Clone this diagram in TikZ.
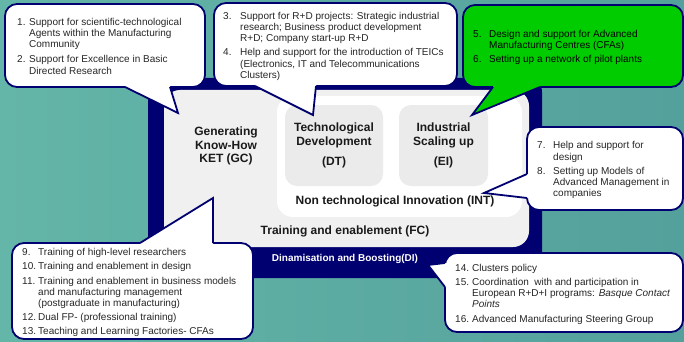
\documentclass[tikz,border=0pt]{standalone}
\usepackage{fontspec}
\setmainfont{Liberation Sans}

\definecolor{navyblue}{RGB}{0,0,112}
\definecolor{tealleft}{RGB}{100,182,168}
\definecolor{tealright}{RGB}{84,160,156}
\definecolor{fcgray}{RGB}{240,240,240}
\definecolor{boxgray}{RGB}{235,235,235}
\definecolor{calloutgreen}{RGB}{0,204,0}
\definecolor{textgray}{RGB}{38,38,38}
\definecolor{labelblack}{RGB}{26,26,26}

\newcommand{\listfont}{\fontsize{10}{11.2}\selectfont}
\newcommand{\keyfont}{\bfseries\fontsize{12}{13.5}\selectfont}
\newcommand{\nextitem}{\\[3pt]}

\begin{document}
\begin{tikzpicture}[x=1pt,y=-1pt,
    region/.style={anchor=north west, inner sep=0pt, outer sep=0pt},
    callout/.style={region, draw=navyblue, line width=1.8pt, fill=white, rounded corners=12pt},
    tailline/.style={draw=navyblue, line width=1.8pt},
    listtext/.style={anchor=west, inner sep=0pt, font=\listfont, text=textgray},
    keylabel/.style={font=\keyfont, align=center, inner sep=0pt, text=labelblack}]
  \useasboundingbox (0,0) rectangle (684,342);
  \shade[left color=tealleft, right color=tealright] (0,0) rectangle (684,342);

  % nested areas
  \node[region, fill=navyblue, rounded corners=14pt, minimum width=394pt, minimum height=200pt] (di) at (148,78) {};
  \node[region, fill=fcgray, rounded corners=16pt, minimum width=365pt, minimum height=157pt] (fc) at (164,90) {};
  \node[region, fill=white, rounded corners=16pt, minimum width=245pt, minimum height=121pt] (int) at (277,96) {};
  \node[region, fill=boxgray, rounded corners=12pt, minimum width=98pt, minimum height=81pt,
    font=\keyfont, align=center, text=labelblack] (dt) at (285,105) {Technological\\Development\\[7pt](DT)};
  \node[region, fill=boxgray, rounded corners=12pt, minimum width=89pt, minimum height=81pt,
    font=\keyfont, align=center, text=labelblack] (ei) at (399,105) {Industrial\\Scaling up\\[7pt](EI)};
  \node[keylabel] (gclabel) at (226,146) {Generating\\Know-How\\KET (GC)};
  \node[keylabel] (intlabel) at (395,201) {Non technological Innovation (INT)};
  \node[keylabel] (fclabel) at (345,231) {Training and enablement (FC)};
  \node[font=\bfseries\fontsize{10}{12}\selectfont, text=white, inner sep=0pt] (dilabel) at (345,259) {Dinamisation and Boosting(DI)};

  % callout 1-2
  \node[callout, minimum width=200pt, minimum height=83pt] (knowhow) at (5,4) {};
  \coordinate (knowhowtip) at (178,113);
  \coordinate (ka) at ([xshift=120pt]knowhow.south west);
  \coordinate (kb) at ([xshift=165pt]knowhow.south west);
  \fill[white] (ka) -- (knowhowtip) -- (kb) -- ([yshift=2pt]kb) -- ([yshift=2pt]ka) -- cycle;
  \draw[tailline] (ka) -- (knowhowtip) -- (kb);
  \node[listtext] (knowhowtext) at ([xshift=12pt,yshift=-2pt]knowhow.west) {%
    \begin{tabular}{@{}p{12pt}@{}p{250pt}@{}}
    1. & Support for scientific-technological\newline Agents within the Manufacturing\newline Community\\[4pt]
    2. & Support for Excellence in Basic\newline Directed Research
    \end{tabular}};

  % callout 3-4
  \node[callout, minimum width=243pt, minimum height=83pt] (techdev) at (214,3) {};
  \coordinate (techdevtip) at (313,115);
  \coordinate (ta) at ([xshift=41pt]techdev.south west);
  \coordinate (tb) at ([xshift=102pt]techdev.south west);
  \fill[white] (ta) -- (techdevtip) -- (tb) -- ([yshift=2pt]tb) -- ([yshift=2pt]ta) -- cycle;
  \draw[tailline] (ta) -- (techdevtip) -- (tb);
  \node[listtext] (techdevtext) at ([xshift=9pt,yshift=-2pt]techdev.west) {%
    \begin{tabular}{@{}p{17pt}@{}p{250pt}@{}}
    3. & Support for R+D projects: Strategic industrial\newline research; Business product development\newline R+D; Company start-up R+D\nextitem
    4. & Help and support for the introduction of TEICs\newline (Electronics, IT and Telecommunications\newline Clusters)
    \end{tabular}};

  % callout 5-6
  \node[callout, fill=calloutgreen, minimum width=220pt, minimum height=82pt] (scaling) at (463,5) {};
  \coordinate (scalingtip) at (472,115);
  \coordinate (sa) at ([xshift=30pt]scaling.south west);
  \coordinate (sb) at ([xshift=77pt]scaling.south west);
  \fill[calloutgreen] (sa) -- (scalingtip) -- (sb) -- ([yshift=2pt]sb) -- ([yshift=2pt]sa) -- cycle;
  \draw[tailline] (sa) -- (scalingtip) -- (sb);
  \node[listtext, text=black] (scalingtext) at ([xshift=10pt,yshift=-2pt]scaling.west) {%
    \begin{tabular}{@{}p{16pt}@{}p{250pt}@{}}
    5. & Design and support for Advanced\newline Manufacturing Centres (CFAs)\nextitem
    6. & Setting up a network of pilot plants
    \end{tabular}};

  % callout 7-8
  \node[callout, minimum width=156pt, minimum height=83pt] (nontech) at (527,127) {};
  \coordinate (nontechtip) at (484,193);
  \coordinate (na) at ([yshift=-47pt]nontech.north west);
  \coordinate (nb) at ([yshift=-71pt]nontech.north west);
  \fill[white] (na) -- (nontechtip) -- (nb) -- ([xshift=2pt]nb) -- ([xshift=2pt]na) -- cycle;
  \draw[tailline] (na) -- (nontechtip) -- (nb);
  \node[listtext] (nontechtext) at ([xshift=10pt,yshift=-2pt]nontech.west) {%
    \begin{tabular}{@{}p{16pt}@{}p{250pt}@{}}
    7. & Help and support for\newline design\nextitem
    8. & Setting up Models of\newline Advanced Management in\newline companies
    \end{tabular}};

  % callout 9-13
  \node[callout, minimum width=241pt, minimum height=96pt] (training) at (12,243) {};
  \coordinate (trainingtip) at (213,198);
  \coordinate (ea) at ([xshift=128pt]training.north west);
  \coordinate (eb) at ([xshift=201pt]training.north west);
  \fill[white] (ea) -- (trainingtip) -- (eb) -- ([yshift=-2pt]eb) -- ([yshift=-2pt]ea) -- cycle;
  \draw[tailline] (ea) -- (trainingtip) -- (eb);
  \node[listtext] (trainingtext) at ([xshift=10pt,yshift=-2pt]training.west) {%
    \begin{tabular}{@{}p{16pt}@{}p{250pt}@{}}
    9. & Training of high-level researchers\nextitem
    10. & Training and enablement in design\nextitem
    11. & Training and enablement in business models\newline and manufacturing management\newline (postgraduate in manufacturing)\nextitem
    12. & Dual FP- (professional training)\nextitem
    13. & Teaching and Learning Factories- CFAs
    \end{tabular}};

  % callout 14-16
  \node[callout, minimum width=238pt, minimum height=79pt] (boosting) at (445,253) {};
  \coordinate (boostingtip) at (428,265);
  \coordinate (ba) at ([yshift=-10pt]boosting.north west);
  \coordinate (bb) at ([yshift=-34pt]boosting.north west);
  \fill[white] (ba) -- (boostingtip) -- (bb) -- ([xshift=2pt]bb) -- ([xshift=2pt]ba) -- cycle;
  \draw[tailline] (ba) -- (boostingtip) -- (bb);
  \node[listtext] (boostingtext) at ([xshift=10pt,yshift=-2pt]boosting.west) {%
    \begin{tabular}{@{}p{17pt}@{}p{250pt}@{}}
    14. & Clusters policy\nextitem
    15. & Coordination\ \ with and participation in\newline European R+D+I programs: \textit{Basque Contact}\newline \textit{Points}\nextitem
    16. & Advanced Manufacturing Steering Group
    \end{tabular}};
\end{tikzpicture}
\end{document}
